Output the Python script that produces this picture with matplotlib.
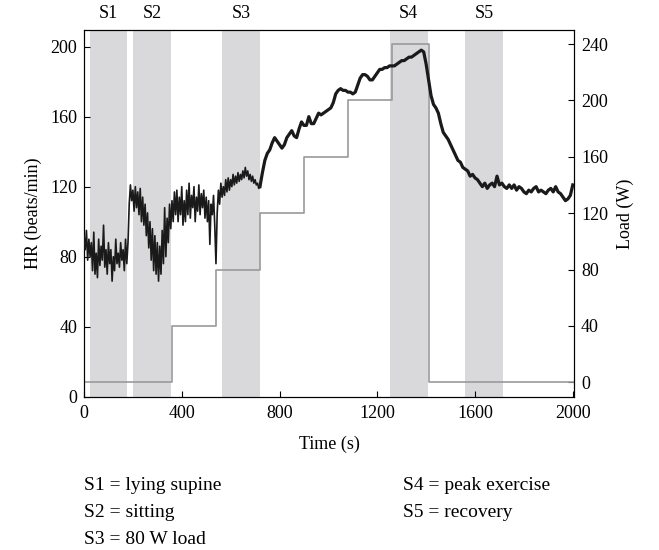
import numpy as np
import matplotlib
matplotlib.use("Agg")
import matplotlib.pyplot as plt

plt.rcParams['font.family'] = ['Liberation Serif', 'DejaVu Serif']

# ---- data ----
# heart rate, rest/transition phase, sampled every 5 s from t = 0
hr_rest = [92, 84, 95, 78, 90, 80, 88, 72, 94, 70, 82, 68, 90, 75, 86, 78, 98, 74, 84, 70,
           88, 76, 84, 66, 80, 72, 90, 76, 82, 74, 88, 78, 84, 72, 90, 76,
           88, 110, 121, 112,
           118, 106, 120, 108, 117, 104, 119, 100, 114, 98, 110, 92,
           105, 85, 100, 78, 96, 72, 92, 70, 88, 66, 86,
           70, 95, 76, 108, 80, 102, 88, 110, 96, 112,
           100, 117, 104, 118, 100, 114, 104, 120, 98, 112,
           100, 118, 104, 122, 102, 115, 108, 120, 100, 114, 106, 121, 104, 116, 108, 118,
           102, 114, 100, 112, 87, 110, 104, 115, 98, 76, 105,
           118, 110, 122, 114, 120, 115, 124, 117, 125, 118, 124, 120, 127, 121, 126, 122,
           128, 123, 127, 124, 129, 125, 131, 126, 129, 124, 127, 123, 126, 122, 124, 121,
           122, 119]
rest_step = 5

# heart rate, exercise & recovery phase, sampled every 10 s from t = 720
hr_ex = [120, 128, 135, 139, 141, 145, 148, 146, 144, 142, 144, 148, 150, 152, 149, 148,
         153, 157, 155, 155, 160, 156, 156, 159, 162, 161, 162, 163, 164, 165, 168, 173,
         175, 176, 175, 175, 174, 174, 173, 174, 178, 182, 184, 184, 183, 181, 181, 183,
         185, 187, 187, 188, 188, 189, 189, 189, 190, 191, 192, 192, 193, 194, 194, 195,
         196, 197, 198, 197, 190, 181, 172, 167, 165, 162, 156, 151, 149, 147, 144, 141,
         138, 135, 134, 131, 130, 129, 126, 127, 125, 124, 122, 120, 122, 119, 121, 122,
         120, 126, 121, 122, 120, 119, 121, 119, 121, 118, 120, 119, 117, 116, 118, 117,
         119, 120, 117, 118, 117, 116, 118, 119, 117, 120, 117, 116, 114, 112, 113, 115,
         121]
ex_start = 720
ex_step = 10

# workload steps (W)
load_t = [0, 360, 540, 720, 900, 1080, 1260, 1413, 2005]
load_w = [0, 40, 80, 120, 160, 200, 240, 0, 0]

# analysed segments
seg_names = ["S1", "S2", "S3", "S4", "S5"]
seg_start = [25, 202, 566, 1252, 1559]
seg_end = [177, 357, 720, 1406, 1713]

legend_left = ["S1 = lying supine", "S2 = sitting", "S3 = 80 W load"]
legend_right = ["S4 = peak exercise", "S5 = recovery"]

# ---- plot ----
fig = plt.figure(figsize=(6.59, 5.5), dpi=100)
ax = fig.add_axes([84 / 659, 1 - 396.7 / 550, (574 - 84) / 659, (396.7 - 30) / 550])
ax2 = ax.twinx()

for s0, s1, nm in zip(seg_start, seg_end, seg_names):
    ax2.axvspan(s0, s1, color='#d9d9db', lw=0, zorder=0)
    ax.text((s0 + s1) / 2, 1.022, nm, transform=ax.get_xaxis_transform(),
            ha='center', va='bottom', fontsize=13)

t_rest = np.arange(len(hr_rest)) * rest_step
t_ex = ex_start + np.arange(len(hr_ex)) * ex_step

ax.plot(list(t_rest) + [t_ex[0]], hr_rest + [hr_ex[0]], color='#1a1a1a', lw=1.2, zorder=3)
ax.plot(t_ex, hr_ex, color='#1a1a1a', lw=2.3, zorder=3, solid_joinstyle='round')

ax2.step(load_t, load_w, where='post', color='#9a9a9a', lw=1.2, zorder=2)

ax.set_zorder(ax2.get_zorder() + 1)
ax.patch.set_visible(False)

ax.set_xlim(0, 2005)
ax.set_ylim(0, 209.5)
ax2.set_ylim(-10.2, 250)

ax.set_xticks(range(0, 2001, 400))
ax.set_yticks(range(0, 201, 40))
ax2.set_yticks(range(0, 241, 40))

for a in (ax, ax2):
    a.tick_params(direction='in', length=4, width=0.8, labelsize=13)
ax.tick_params(axis='x', pad=6)
ax.tick_params(axis='y', pad=5)
ax2.tick_params(axis='y', pad=5)

ax.set_xlabel("Time (s)", fontsize=13, labelpad=10)
ax.set_ylabel("HR (beats/min)", fontsize=13, labelpad=6)
ax2.set_ylabel("Load (W)", fontsize=13, labelpad=6)

row_y = [485, 512.5, 540]
for i, s in enumerate(legend_left):
    fig.text(84 / 659, 1 - row_y[i] / 550, s, ha='left', va='center', fontsize=14)
for i, s in enumerate(legend_right):
    fig.text(403 / 659, 1 - row_y[i] / 550, s, ha='left', va='center', fontsize=14)

fig.savefig("out.png", dpi=100)
